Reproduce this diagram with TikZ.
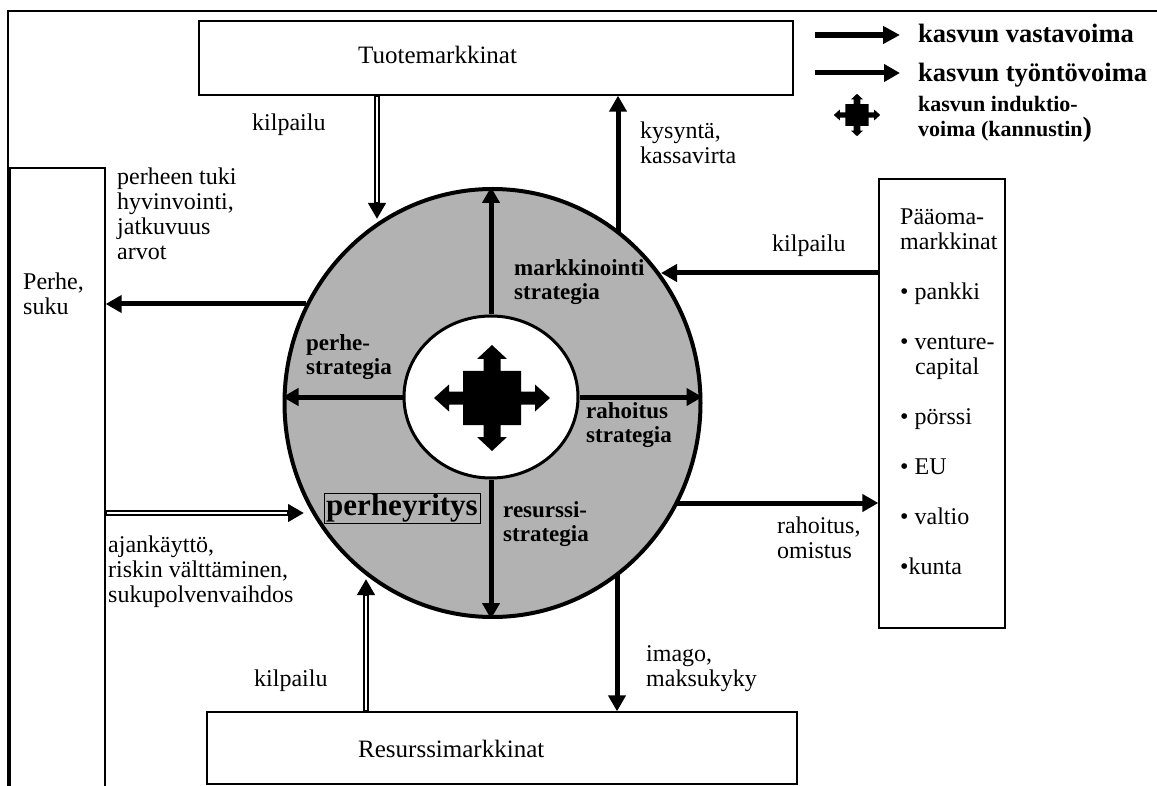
\documentclass[tikz,border=0pt]{standalone}
\usepackage{fontspec}
\setmainfont{Liberation Serif}
\usetikzlibrary{arrows.meta,shapes.geometric}
\definecolor{ringgray}{gray}{0.70}
\begin{document}
\begin{tikzpicture}[x=1pt,y=-1pt,
  box/.style={draw, line width=1.3pt, rectangle, inner sep=0pt},
  lbl/.style={font=\fontsize{24}{25}\selectfont, inner sep=0pt, align=left},
  strat/.style={font=\bfseries\fontsize{23}{24.5}\selectfont, inner sep=0pt, align=left},
  legendtext/.style={font=\bfseries\fontsize{26.5}{27}\selectfont, inner sep=0pt},
  legendsmall/.style={font=\bfseries\fontsize{22}{23}\selectfont, inner sep=0pt},
  push/.style={line width=5pt, -{Triangle[length=16pt,width=17pt]}},
  counter/.style={line width=6.2pt, -{Triangle[length=16pt,width=17pt]},
    postaction={draw=white, line width=1.2pt, -, shorten >=17pt, shorten <=1.5pt}},
  induction/.pic={
    \fill (0,-53) -- (15,-39) -- (8.5,-39) -- (8.5,-27) -- (29,-27) -- (29,-6.5)
      -- (43,-6.5) -- (43,-13.5) -- (58,0) -- (43,13.5) -- (43,6.5) -- (29,6.5)
      -- (29,27) -- (8.5,27) -- (8.5,39) -- (15,39) -- (0,53) -- (-15,39)
      -- (-8.5,39) -- (-8.5,27) -- (-29,27) -- (-29,6.5) -- (-43,6.5)
      -- (-43,13.5) -- (-58,0) -- (-43,-13.5) -- (-43,-6.5) -- (-29,-6.5)
      -- (-29,-27) -- (-8.5,-27) -- (-8.5,-39) -- (-15,-39) -- cycle;
  }
]
\useasboundingbox (0,0) rectangle (1157,786);

% outer frame
\draw[line width=1.5pt] (8,800) -- (8,11) -- (1170,11);

% market boxes
\node[box, minimum width=594pt, minimum height=74pt] (tm) at (496,58) {};
\node[box, minimum width=95pt, minimum height=632pt] (pf) at (57.5,484) {};
\node[box, minimum width=126pt, minimum height=449pt] (pm) at (942,403.5) {};
\node[box, minimum width=590pt, minimum height=72pt] (rm) at (502,748) {};

% the firm: outer ring and core
\node[ellipse, draw, line width=4pt, fill=ringgray, minimum width=416pt,
  minimum height=428pt, inner sep=0pt] (firm) at (492.5,403) {};
\node[ellipse, draw, line width=3pt, fill=white, minimum width=174pt,
  minimum height=162pt, inner sep=0pt] (core) at (491,397) {};

% strategy arrows from the core to the ring
\draw[push] (core.north) -- (core.north |- firm.north);
\draw[push] (core.south) -- (core.south |- firm.south);
\draw[push] (core.west) -- (core.west -| firm.west);
\draw[push] (core.east) -- (core.east -| firm.east);

% points where the outer arrows meet the ring
\coordinate (kTop) at (377,219);
\coordinate (dTop) at (618,232);
\coordinate (fam) at (306,304);
\coordinate (capIn) at (661,273);
\coordinate (capOut) at (676,503);
\coordinate (time) at (304,513);
\coordinate (kBot) at (366,579);
\coordinate (img) at (617,575);

\draw[counter] (tm.south -| kTop) -- (kTop);
\draw[push] (dTop) -- (dTop |- tm.south);
\draw[push] (fam) -- (fam -| pf.east);
\draw[push] (capIn -| pm.west) -- (capIn);
\draw[push] (capOut) -- (capOut -| pm.west);
\draw[counter] (time -| pf.east) -- (time);
\draw[counter] (rm.north -| kBot) -- (kBot);
\draw[push] (img) -- (img |- rm.north);

% induction cross in the core
\pic at (492,398) {induction};

% box titles
\node[lbl, anchor=base west, font=\fontsize{25}{25}\selectfont] (tmt) at (358,64) {Tuotemarkkinat};
\node[lbl, anchor=base west, font=\fontsize{25}{25}\selectfont] (rmt) at (358,757) {Resurssimarkkinat};
\node[lbl, anchor=north west] (pft) at (23,272.5) {Perhe,\\suku};
\node[lbl, anchor=north west] (pmt) at (900,208.5)
  {Pääoma-\\markkinat\\[25pt]• pankki\\[25pt]• venture-\\\hspace*{15pt}capital\\[25pt]• pörssi\\[25pt]• EU\\[25pt]• valtio\\[25pt]•kunta};

% flow labels
\node[lbl, anchor=base west] (l1) at (252,131) {kilpailu};
\node[lbl, anchor=north west] (l2) at (640,121.5) {kysyntä,\\kassavirta};
\node[lbl, anchor=north west] (l3) at (117,167.5) {perheen tuki\\hyvinvointi,\\jatkuvuus\\arvot};
\node[lbl, anchor=base west] (l4) at (772,252) {kilpailu};
\node[lbl, anchor=north west] (l5) at (777,516.5) {rahoitus,\\omistus};
\node[lbl, anchor=north west] (l6) at (108,535.5) {ajankäyttö,\\riskin välttäminen,\\sukupolvenvaihdos};
\node[lbl, anchor=base west] (l7) at (254,686) {kilpailu};
\node[lbl, anchor=north west] (l8) at (646,645.5) {imago,\\maksukyky};

% strategy labels
\node[strat, anchor=north west] (s1) at (514,259) {markkinointi\\strategia};
\node[strat, anchor=north west] (s2) at (306,334) {perhe-\\strategia};
\node[strat, anchor=north west] (s3) at (586,402) {rahoitus\\strategia};
\node[strat, anchor=north west] (s4) at (503,501) {resurssi-\\strategia};
\node[draw, line width=0.8pt, minimum width=156pt, minimum height=30pt, inner sep=0pt,
  font=\bfseries\fontsize{31}{31}\selectfont] (py) at (402,508) {perheyritys};

% legend
\coordinate (lgA) at (815,35);
\coordinate (lgB) at (815,73);
\draw[line width=6pt, -{Triangle[length=17pt,width=17pt]}] (lgA) -- ++(85,0);
\draw[push] (lgB) -- ++(85,0);
\pic[scale=0.4] at (857,115) {induction};
\node[legendtext, anchor=base west] (lg1) at (918,43) {kasvun vastavoima};
\node[legendtext, anchor=base west] (lg2) at (918,82) {kasvun työntövoima};
\node[legendsmall, anchor=base west] (lg3) at (918,112) {kasvun induktio-};
\node[legendsmall, anchor=base west] (lg4) at (918,137) {voima (kannustin{\fontsize{28}{28}\selectfont)}};
\end{tikzpicture}
\end{document}
